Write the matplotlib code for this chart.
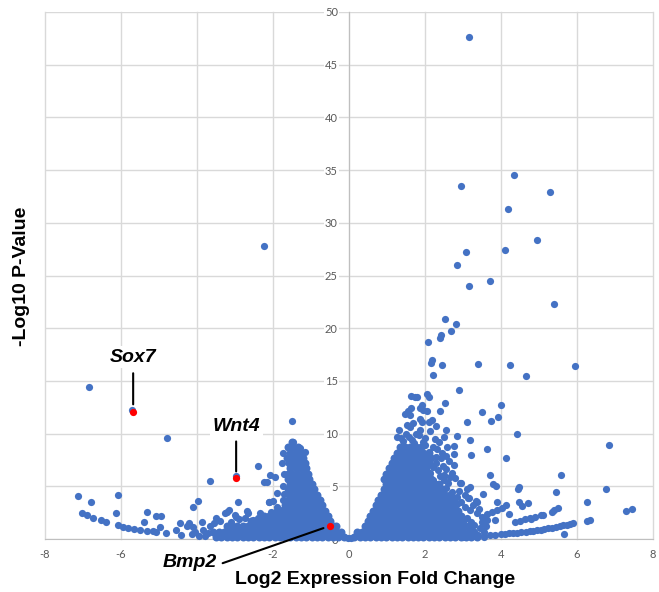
import matplotlib
matplotlib.use("Agg")
import matplotlib.pyplot as plt

# ---------------- data ----------------
x_ticks = [-8, -6, -4, -2, 0, 2, 4, 6, 8]
x_tick_labels = ["-8", "-6", "", "-2", "0", "2", "4", "6", "8"]   # "-4" is hidden behind the Bmp2 label
y_ticks = [0, 5, 10, 15, 20, 25, 30, 35, 40, 45, 50]

# dense cloud, negative fold change (rows: -log10 p, list of log2 FC)
neg_core_rows = [
    (0.2, [-0.14, -0.28, -0.42, -0.56, -0.70, -0.84, -0.98, -1.12, -1.26, -1.40, -1.54, -1.68, -1.82,
           -1.96, -2.10, -2.24, -2.38, -2.52, -2.66, -2.80, -2.94, -3.08, -3.22, -3.36, -3.50]),
    (0.7, [-0.21, -0.35, -0.49, -0.63, -0.77, -0.91, -1.05, -1.19, -1.33, -1.47, -1.61, -1.75, -1.89,
           -2.03, -2.17, -2.31, -2.45, -2.59, -2.73, -2.87, -3.01, -3.15, -3.29, -3.43, -3.57]),
    (1.2, [-0.34, -0.42, -0.56, -0.70, -0.84, -0.98, -1.12, -1.26, -1.40, -1.54, -1.68, -1.82, -1.96,
           -2.10, -2.24, -2.38, -2.52, -2.66, -2.80, -2.94, -3.08, -3.22]),
    (1.7, [-0.49, -0.63, -0.77, -0.91, -1.05, -1.19, -1.33, -1.47, -1.61, -1.75, -1.89, -2.03, -2.17,
           -2.31, -2.45, -2.59]),
    (2.2, [-0.56, -0.70, -0.84, -0.98, -1.12, -1.26, -1.40, -1.54, -1.68, -1.82, -1.96, -2.10, -2.24]),
    (2.7, [-0.63, -0.77, -0.91, -1.05, -1.19, -1.33, -1.47, -1.61, -1.75, -1.89]),
    (3.2, [-0.70, -0.84, -0.98, -1.12, -1.26, -1.40, -1.54, -1.68]),
    (3.7, [-0.77, -0.91, -1.05, -1.19, -1.33, -1.47, -1.61]),
    (4.2, [-0.84, -0.98, -1.12, -1.26, -1.40, -1.54]),
    (4.7, [-0.91, -1.05, -1.19, -1.33, -1.47, -1.61]),
    (5.2, [-0.98, -1.12, -1.26, -1.40, -1.54]),
    (5.7, [-1.04, -1.19, -1.33, -1.47, -1.61]),
    (6.2, [-1.08, -1.22, -1.36, -1.50, -1.60]),
    (6.7, [-1.12, -1.26, -1.40, -1.54]),
    (7.2, [-1.16, -1.30, -1.44, -1.58]),
    (7.7, [-1.22, -1.36, -1.50, -1.62]),
    (8.2, [-1.27, -1.40, -1.54]),
    (8.7, [-1.34, -1.47, -1.60]),
    (9.2, [-1.50]),
]

# dense cloud, positive fold change
pos_core_rows = [
    (0.2, [0.14, 0.28, 0.42, 0.56, 0.70, 0.84, 0.98, 1.12, 1.26, 1.40, 1.54, 1.68, 1.82, 1.96, 2.10,
           2.24, 2.38, 2.52, 2.66, 2.80, 2.94, 3.08, 3.22, 3.36]),
    (0.7, [0.21, 0.35, 0.49, 0.63, 0.77, 0.91, 1.05, 1.19, 1.33, 1.47, 1.61, 1.75, 1.89, 2.03, 2.17,
           2.31, 2.45, 2.59, 2.73, 2.87, 3.01, 3.15, 3.29]),
    (1.2, [0.42, 0.56, 0.70, 0.84, 0.98, 1.12, 1.26, 1.40, 1.54, 1.68, 1.82, 1.96, 2.10, 2.24, 2.38,
           2.52, 2.66, 2.80, 2.94, 3.08, 3.22]),
    (1.7, [0.49, 0.63, 0.77, 0.91, 1.05, 1.19, 1.33, 1.47, 1.61, 1.75, 1.89, 2.03, 2.17, 2.31, 2.45,
           2.59, 2.73, 2.87, 3.01]),
    (2.2, [0.56, 0.70, 0.84, 0.98, 1.12, 1.26, 1.40, 1.54, 1.68, 1.82, 1.96, 2.10, 2.24, 2.38, 2.52,
           2.66, 2.80, 2.94]),
    (2.7, [0.63, 0.77, 0.91, 1.05, 1.19, 1.33, 1.47, 1.61, 1.75, 1.89, 2.03, 2.17, 2.31, 2.45, 2.59,
           2.73, 2.87]),
    (3.2, [0.70, 0.84, 0.98, 1.12, 1.26, 1.40, 1.54, 1.68, 1.82, 1.96, 2.10, 2.24, 2.38, 2.52, 2.66, 2.80]),
    (3.7, [0.77, 0.91, 1.05, 1.19, 1.33, 1.47, 1.61, 1.75, 1.89, 2.03, 2.17, 2.31, 2.45, 2.59, 2.73]),
    (4.2, [0.84, 0.98, 1.12, 1.26, 1.40, 1.54, 1.68, 1.82, 1.96, 2.10, 2.24, 2.38, 2.52, 2.66]),
    (4.7, [0.91, 1.05, 1.19, 1.33, 1.47, 1.61, 1.75, 1.89, 2.03, 2.17, 2.31, 2.45]),
    (5.2, [0.98, 1.12, 1.26, 1.40, 1.54, 1.68, 1.82, 1.96, 2.10, 2.24, 2.38]),
    (5.7, [0.91, 1.05, 1.19, 1.33, 1.47, 1.61, 1.75, 1.89, 2.03, 2.17]),
    (6.2, [0.98, 1.12, 1.26, 1.40, 1.54, 1.68, 1.82, 1.96, 2.10]),
    (6.7, [1.05, 1.19, 1.33, 1.47, 1.61, 1.75, 1.89, 2.03]),
    (7.2, [1.12, 1.26, 1.40, 1.54, 1.68, 1.82, 1.96, 2.10]),
    (7.7, [1.19, 1.33, 1.47, 1.61, 1.75, 1.89, 2.03, 2.17]),
    (8.2, [1.26, 1.40, 1.54, 1.68, 1.82, 1.96, 2.10]),
    (8.7, [1.33, 1.47, 1.61, 1.75, 1.89]),
]

# individual genes, negative side (log2 FC, -log10 p)
neg_genes = [
    (-2.25, 27.8), (-6.83, 14.4), (-4.78, 9.55), (-1.51, 11.2), (-2.40, 6.96), (-2.08, 6.1),
    (-2.25, 5.44), (-2.17, 5.44), (-3.67, 5.47), (-2.93, 3.48), (-2.11, 3.54), (-3.97, 3.63),
    (-4.10, 3.0), (-7.14, 4.11), (-6.79, 3.48), (-6.07, 4.17), (-6.14, 2.44), (-7.03, 2.5),
    (-6.90, 2.28), (-6.75, 2.02), (-6.53, 1.8), (-6.40, 1.64), (-6.09, 1.33), (-5.94, 1.17),
    (-5.81, 1.01), (-5.66, 0.92), (-5.50, 0.85), (-5.31, 0.79), (-5.15, 0.74), (-5.08, 0.69),
    (-4.98, 1.13), (-4.82, 0.54), (-5.31, 2.53), (-5.39, 1.58), (-5.08, 2.18), (-4.96, 2.18),
    (-4.54, 0.85), (-4.43, 0.38), (-4.46, 1.49), (-4.27, 1.23), (-4.20, 1.49), (-4.10, 1.11),
    (-4.14, 0.47), (-4.05, 0.69), (-3.86, 1.64), (-3.83, 0.85), (-3.70, 0.6), (-3.78, 0.25),
    (-3.95, 0.3), (-3.26, 2.44), (-3.20, 2.6), (-3.15, 2.75), (-2.98, 2.1), (-2.69, 2.69),
    (-2.65, 2.44), (-2.52, 1.8), (-2.39, 1.96), (-2.25, 2.12), (-1.89, 4.33), (-1.73, 3.7),
    (-1.68, 3.07), (-1.99, 3.6), (-2.10, 3.5), (-1.90, 3.07), (-1.82, 2.75), (-2.34, 2.44),
    (-1.73, 8.13), (-1.77, 7.18), (-1.29, 8.6), (-1.16, 8.28), (-1.48, 9.25), (-1.95, 5.9),
    (-1.75, 5.0), (-1.72, 6.2), (-1.70, 4.3), (-3.40, 1.7), (-3.55, 1.5), (-3.10, 1.65),
    (-2.90, 1.9), (-2.75, 2.0), (-3.00, 2.3), (-2.05, 2.6), (-3.65, 1.2), (-3.50, 1.95),
    (-0.02, 0.05), (0.05, 0.12), (-5.72, 12.25), (-2.97, 5.95),
]

# individual genes, positive side
pos_genes = [
    (3.17, 47.6), (4.35, 34.56), (2.96, 33.5), (5.29, 32.9), (4.19, 31.3), (4.94, 28.4),
    (4.10, 27.4), (3.07, 27.2), (2.83, 26.0), (3.70, 24.5), (3.16, 24.0), (5.39, 22.3),
    (2.53, 20.9), (2.81, 20.4), (2.68, 19.75), (2.42, 19.4), (2.39, 19.1), (2.07, 18.7),
    (2.16, 16.7), (2.18, 16.95), (2.20, 15.6), (2.44, 16.5), (3.40, 16.6), (4.24, 16.5),
    (4.67, 15.5), (5.94, 16.4), (2.89, 14.1), (2.04, 13.8), (2.11, 13.45), (1.63, 13.57),
    (1.74, 13.5), (1.80, 13.44), (2.53, 12.9), (2.39, 12.1), (3.49, 12.05), (4.01, 12.7),
    (3.91, 11.6), (3.73, 11.2), (3.10, 11.1), (1.91, 12.7), (1.87, 12.4), (1.96, 12.2),
    (2.06, 12.1), (1.63, 12.4), (1.56, 12.1), (1.47, 11.9), (1.61, 11.8), (2.18, 11.3),
    (2.11, 11.1), (1.87, 11.36), (1.91, 11.1), (1.68, 11.0), (1.52, 10.8), (1.61, 10.65),
    (1.87, 10.3), (1.85, 9.87), (2.55, 10.3), (2.50, 9.7), (2.84, 9.8), (1.32, 10.3),
    (1.26, 9.7), (1.36, 9.55), (1.59, 9.7), (1.65, 9.4), (3.18, 9.4), (4.41, 10.0),
    (6.85, 8.9), (2.57, 8.7), (2.76, 8.8), (2.21, 8.7), (2.75, 8.1), (3.21, 8.0),
    (3.64, 8.5), (4.13, 7.7), (2.42, 7.66), (2.47, 6.9), (2.75, 7.0), (2.71, 6.3),
    (2.13, 6.3), (2.66, 5.9), (3.70, 6.1), (5.57, 6.05), (2.49, 5.6), (2.91, 5.3),
    (3.80, 5.25), (3.86, 5.0), (6.75, 4.7), (4.44, 4.7), (4.47, 4.9), (5.46, 4.45),
    (3.53, 4.25), (3.10, 4.7), (3.18, 4.96), (2.94, 5.28), (3.14, 3.9), (3.33, 3.6),
    (3.89, 3.55), (4.13, 3.23), (4.47, 3.5), (4.72, 3.45), (4.54, 3.1), (6.25, 3.55),
    (7.30, 2.7), (7.46, 2.8), (5.49, 2.9), (5.40, 2.75), (5.06, 2.3), (4.78, 1.9),
    (6.25, 1.7), (6.33, 1.85), (5.67, 0.45), (3.83, 1.8), (4.22, 2.37),
    (3.62, 2.37), (3.76, 2.56), (3.89, 2.75), (4.02, 2.91),
    (4.37, 1.64), (4.50, 1.74), (4.63, 1.87), (4.76, 1.96), (4.90, 2.1), (5.11, 2.28), (5.33, 2.59),
    (3.71, 0.38), (3.85, 0.42), (3.99, 0.47), (4.10, 0.5), (4.21, 0.54), (4.31, 0.57),
    (4.41, 0.6), (4.53, 0.63), (4.65, 0.66), (4.75, 0.72), (4.85, 0.79), (4.95, 0.83),
    (5.05, 0.88), (5.14, 0.95), (5.24, 1.01), (5.35, 1.09), (5.46, 1.17), (5.55, 1.23),
    (5.64, 1.3), (5.73, 1.36), (5.82, 1.42), (5.89, 1.49),
    (2.99, 0.16), (3.40, 0.35), (3.55, 0.2), (3.17, 3.86), (3.27, 3.23), (3.36, 3.54),
    (3.18, 2.75), (3.36, 2.44), (3.49, 2.12), (3.62, 1.8), (3.05, 3.0), (3.10, 2.0),
    (3.20, 1.6), (3.30, 1.3), (3.45, 1.0), (3.55, 0.7), (3.50, 1.6), (3.15, 1.2),
    (3.60, 1.2), (3.42, 2.8), (2.95, 3.5), (3.05, 4.2), (2.85, 4.0), (2.90, 4.6),
    (2.00, 8.9), (2.10, 8.3), (2.30, 7.8), (2.28, 7.2), (2.20, 6.8), (2.35, 6.5),
    (2.20, 5.6), (2.30, 5.2), (2.60, 5.3), (2.55, 4.8), (2.40, 4.4), (2.70, 4.5),
    (2.75, 3.9), (2.60, 3.5), (2.85, 3.3), (2.45, 8.2), (2.62, 7.4), (2.50, 6.1),
    (2.80, 5.8), (2.38, 9.2), (2.25, 9.5), (2.00, 9.6), (2.12, 10.2), (1.75, 10.0),
    (1.50, 10.0), (1.42, 9.3), (2.30, 10.7), (1.95, 9.2), (1.70, 9.1), (2.32, 8.5),
    (2.55, 7.9), (2.40, 6.0), (2.55, 6.6),
]

# highlighted genes
hl_names = ["Sox7", "Wnt4", "Bmp2"]
hl_x = [-5.68, -2.97, -0.50]
hl_y = [12.05, 5.75, 1.25]

# ---------------- build point tables ----------------
cx, cy = [], []
for rows in (neg_core_rows, pos_core_rows):
    for yv, xs in rows:
        cx.extend(xs)
        cy.extend([yv] * len(xs))
gx = [p[0] for p in neg_genes + pos_genes]
gy = [p[1] for p in neg_genes + pos_genes]

# ---------------- figure ----------------
plt.rcParams["font.family"] = ["Lato", "DejaVu Sans"]
fig = plt.figure(figsize=(6.59, 5.92), dpi=100)
ax = fig.add_axes([45 / 659, 1 - 539 / 592, (653 - 45) / 659, (539 - 12) / 592])
ax.set_xlim(-8, 8)
ax.set_ylim(0, 50)
ax.set_xticks(x_ticks)
ax.set_xticklabels(x_tick_labels)
ax.set_yticks(y_ticks)
ax.set_yticklabels([str(v) for v in y_ticks])

ax.set_axisbelow(True)
ax.grid(True, color="#d9d9d9", linewidth=1.0)
for ln in ax.get_xgridlines() + ax.get_ygridlines():
    ln.set_clip_on(False)

for s in ("top", "right"):
    ax.spines[s].set_visible(False)
ax.spines["left"].set_position(("data", 0))
ax.spines["left"].set_color("#bfbfbf")
ax.spines["bottom"].set_color("#bfbfbf")
ax.spines["left"].set_zorder(1)
ax.spines["bottom"].set_zorder(1)

ax.tick_params(axis="both", length=0, labelsize=8, labelcolor="#595959")
ax.tick_params(axis="y", pad=8)
ax.tick_params(axis="x", pad=7)
for t, v in zip(ax.yaxis.get_major_ticks(), y_ticks):
    if v != 0:
        t.label1.set_bbox(dict(facecolor="white", edgecolor="none", pad=1))

blue = "#4472C4"
ax.scatter(cx, cy, s=33, c=blue, linewidths=0, clip_on=False, zorder=2)
ax.scatter(gx, gy, s=27, c=blue, linewidths=0, clip_on=False, zorder=2)
ax.scatter(hl_x, hl_y, s=27, c="#FF0000", linewidths=0, clip_on=False, zorder=3)

# annotations: (text offset, line start offset, gap to point) in points
ann_text_off = [(0, 39.4), (0, 37.2), (-100.8, -26.6)]
ann_line_off = [(0, 27.9), (0, 26.6), (-77.3, -26.9)]
ann_gap = [5.5, 5.0, 5.0]
for name, x, y, toff, loff, gap in zip(hl_names, hl_x, hl_y, ann_text_off, ann_line_off, ann_gap):
    ax.annotate("", xy=(x, y), xytext=loff, textcoords="offset points",
                arrowprops=dict(arrowstyle="-", color="black", lw=1.5, shrinkA=0, shrinkB=gap),
                annotation_clip=False, zorder=4)
    ax.annotate(name, xy=(x, y), xytext=toff, textcoords="offset points",
                ha="center", va="center", fontsize=14, fontweight="bold", fontstyle="italic",
                family=["Liberation Sans", "DejaVu Sans"], annotation_clip=False, zorder=5,
                bbox=dict(facecolor="white", edgecolor="none", pad=2))

fig.text(375 / 659, 1 - 580 / 592, "Log2 Expression Fold Change", ha="center", va="center",
         fontsize=14, fontweight="bold", family=["Liberation Sans", "DejaVu Sans"])
fig.text(22 / 659, 1 - 276 / 592, "-Log10 P-Value", ha="center", va="center", rotation=90,
         fontsize=14, fontweight="bold", family=["Liberation Sans", "DejaVu Sans"])

fig.savefig("out.png", dpi=100)
